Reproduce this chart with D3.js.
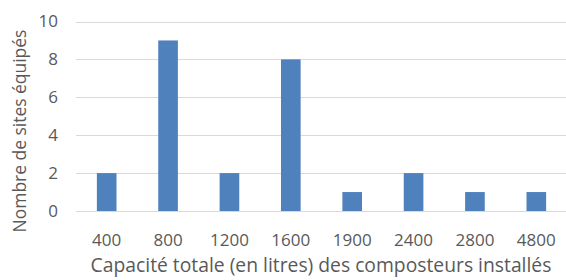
<!DOCTYPE html>
<html>
<head>
<meta charset="utf-8">
<script src="https://cdn.jsdelivr.net/npm/d3@7"></script>
<style>
  html, body { margin: 0; padding: 0; background: #fff; }
  svg { display: block; }
  text { font-family: "Open Sans", sans-serif; fill: #595959; }
</style>
</head>
<body>
<svg width="566" height="280"></svg>
<script>
const capacites = ['400', '800', '1200', '1600', '1900', '2400', '2800', '4800'];
const nbSites = [2, 9, 2, 8, 1, 2, 1, 1];
const yTicks = [0, 2, 4, 6, 8, 10];

const titreX = 'Capacité totale (en litres) des composteurs installés';
const titreY = 'Nombre de sites équipés';

const svg = d3.select('svg');

// zone du graphique
const plotLeft = 76, plotRight = 567, plotTop = 21.5, plotBottom = 211;

const x = d3.scaleBand()
  .domain(capacites)
  .range([plotLeft, plotRight])
  .paddingInner(0.68)
  .paddingOuter(0.34);

const y = d3.scaleLinear().domain([0, 10]).range([plotBottom, plotTop]);

// grille horizontale
svg.append('g')
  .selectAll('line')
  .data(yTicks)
  .enter().append('line')
    .attr('x1', plotLeft)
    .attr('x2', plotRight)
    .attr('y1', d => Math.round(y(d)) + 0.5)
    .attr('y2', d => Math.round(y(d)) + 0.5)
    .attr('stroke', '#d9d9d9')
    .attr('stroke-width', 1);

// barres
svg.append('g')
  .selectAll('rect')
  .data(capacites)
  .enter().append('rect')
    .attr('x', d => x(d))
    .attr('width', x.bandwidth())
    .attr('y', (d, i) => y(nbSites[i]))
    .attr('height', (d, i) => y(0) - y(nbSites[i]))
    .attr('fill', '#4f81bd');

// libellés axe Y
svg.append('g')
  .selectAll('text')
  .data(yTicks)
  .enter().append('text')
    .attr('x', 58)
    .attr('y', d => y(d))
    .attr('dy', '0.35em')
    .attr('text-anchor', 'end')
    .style('font-size', '17px')
    .text(d => d);

// libellés axe X
svg.append('g')
  .selectAll('text')
  .data(capacites)
  .enter().append('text')
    .attr('x', d => x(d) + x.bandwidth() / 2)
    .attr('y', 246)
    .attr('text-anchor', 'middle')
    .style('font-size', '17px')
    .text(d => d);

// titres des axes
const tx = svg.append('text')
  .attr('x', 321)
  .attr('y', 272)
  .attr('text-anchor', 'middle')
  .style('font-size', '17px')
  .text(titreX);
tx.style('font-size', (17 * 461 / tx.node().getComputedTextLength()) + 'px');

const ty = svg.append('text')
  .attr('transform', 'translate(26,131) rotate(-90)')
  .attr('text-anchor', 'middle')
  .style('font-size', '17px')
  .text(titreY);
ty.style('font-size', (17 * 203 / ty.node().getComputedTextLength()) + 'px');
</script>
</body>
</html>
